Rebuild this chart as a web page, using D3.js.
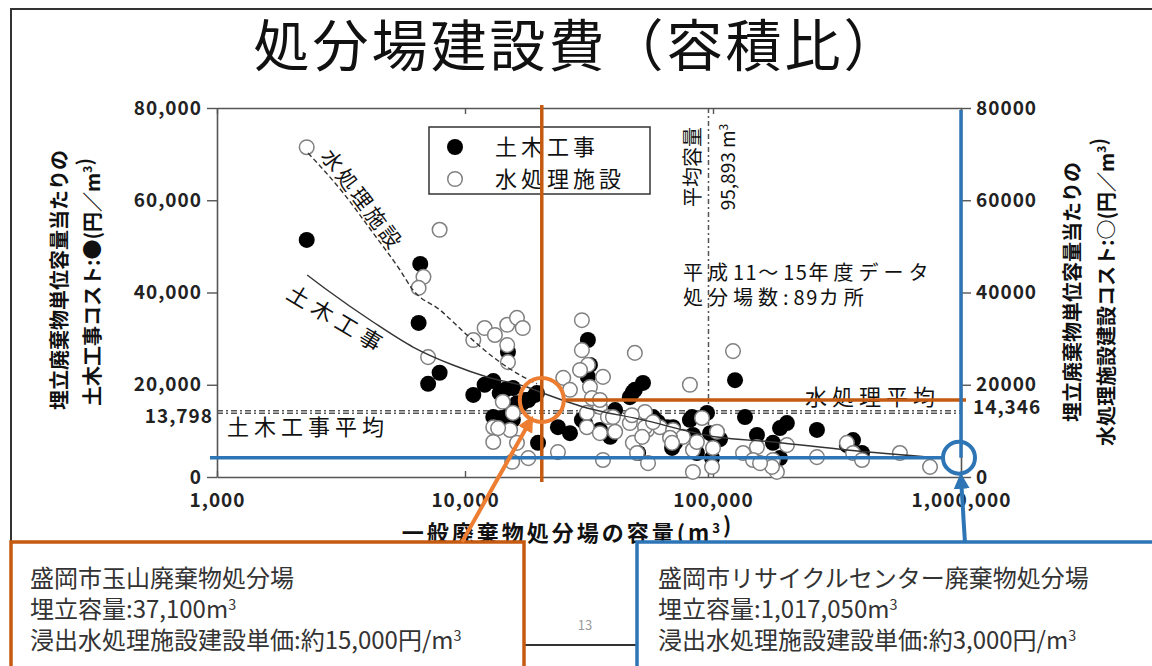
<!DOCTYPE html>
<html>
<head>
<meta charset="utf-8">
<script src="https://cdn.jsdelivr.net/npm/d3@7"></script>
<style>
body { margin: 0; background: #fff; }
text { font-family: "Noto Sans CJK JP", sans-serif; }
</style>
</head>
<body>
<svg id="chart" width="1152" height="666"></svg>
<script>
// black dots: civil works cost per m3
let civilCap = [2300, 6600, 6500, 7900, 7100, 10800, 12000, 13000, 13800, 14500, 15600, 14900, 13000, 14200,
    15500, 16200, 17000, 18000, 19500, 19200, 19700, 23700, 26500, 17500, 15200, 15600, 31300, 31900, 31300,
    52200, 48400, 46200, 47500, 29600, 30500, 40300, 49900, 54700, 57300, 65300, 69000, 70300, 68400, 82300,
    80700, 94600, 97300, 99100, 86100, 122700, 134600, 150400, 174500, 186300, 198600, 262500, 367000, 346600,
    398900, 186300, 38500, 35000, 60000, 83000, 106700];
let civilCost = [51400, 46200, 33400, 22600, 20200, 17800, 20000, 20800, 18200, 18900, 19300, 27100, 13000, 12800,
    14500, 16000, 16000, 16700, 18200, 17800, 7400, 10800, 9500, 16700, 13900, 12400, 29700, 24300, 21700,
    20400, 18900, 17300, 18400, 12400, 11700, 14500, 5200, 10600, 13000, 10800, 10800, 7400, 6300, 13000,
    12400, 13900, 9500, 4100, 5200, 21000, 13000, 9100, 7400, 10600, 11700, 10200, 8000, 6900,
    5200, 4100, 8700, 10200, 11900, 9100, 8200];

// open dots: leachate treatment facility cost per m3
let waterCap = [2300, 7900, 6800, 6500, 7100, 10800, 12000, 13200, 14800, 16200, 17100, 14800, 14900, 14200,
    13000, 13000, 15200, 15500, 18000, 23700, 24900, 26500, 15600, 29600, 29600, 31300, 31900, 36000, 48400,
    13600, 16200, 36000, 54700, 31000, 35000, 37700, 31000, 35000, 40300, 46200, 53200, 54200, 61100, 69000,
    75700, 83000, 83000, 80700, 47500, 49400, 120400, 29100, 32500, 35000, 39500, 47100, 53200, 57300, 51800,
    67100, 86100, 90300, 100000, 103800, 99100, 132200, 150400, 145000, 174500, 198600, 181000, 173000, 154800,
    262500, 346600, 367000, 398900, 567000, 750000, 68400];
let waterCost = [71500, 53600, 43400, 41000, 26000, 29700, 32300, 30800, 33000, 34500, 32300, 28600, 24900, 16300,
    10800, 7600, 10200, 3300, 4100, 5400, 21500, 18900, 13900, 34000, 27500, 24300, 19500, 21700, 26900,
    10600, 7400, 3700, 3000, 13900, 15200, 13000, 10800, 9500, 9800, 11700, 14100, 10200, 10800, 10200,
    8700, 5900, 1100, 20000, 7400, 5200, 27300, 23200, 17100, 16700, 13000, 13400, 10800, 11900, 8700,
    8500, 7600, 12800, 6300, 9800, 2200, 5200, 6500, 3700, 3700, 6900, 1100, 2200, 3000,
    4300, 7400, 5200, 3700, 5200, 2200, 7400];

// trend curves as drawn
let civilCurveX = [2310, 2780, 4260, 6170, 8940, 12270, 17780, 20060, 31050, 50000, 103800, 174500, 346600, 822000];
let civilCurveY = [43800, 40540, 33600, 28180, 24280, 21680, 19510, 18430, 14960, 12600, 8670, 7590, 5850, 4120];
let waterCurveX = [2330, 3230, 4260, 5470, 6170, 7930, 10190, 12970, 16660, 19500];
let waterCurveY = [70240, 61570, 52900, 44880, 40540, 36200, 30790, 26020, 22110, 20200];

let xTicks = [1000, 10000, 100000, 1000000];
let yTicks = [0, 20000, 40000, 60000, 80000];
let civilAvg = 13798;
let waterAvg = 14346;
let avgCapacity = 95893;

// where the slide's callouts point
let tamayamaMark = [20400, 16700];
let recycleMark = [1000000, 4200];

let tamayamaText = ["盛岡市玉山廃棄物処分場", "埋立容量:37,100m^3", "浸出水処理施設建設単価:約15,000円/m^3"];
let recycleText = ["盛岡市リサイクルセンター廃棄物処分場", "埋立容量:1,017,050m^3", "浸出水処理施設建設単価:約3,000円/m^3"];

let margin = {top: 108, right: 191, bottom: 189, left: 217};
let width = 1152 - margin.left - margin.right;
let height = 666 - margin.top - margin.bottom;

let orangeDark = "#C55A11", orange = "#ED7D31", blue = "#2E75B6";

let svg = d3.select("#chart");
svg.append("rect").attr("width", 1152).attr("height", 666).attr("fill", "#fff");

let defs = svg.append("defs");
function addArrow(id, color) {
    defs.append("marker")
        .attr("id", id)
        .attr("viewBox", "0 0 10 10")
        .attr("refX", 7).attr("refY", 5)
        .attr("markerWidth", 4).attr("markerHeight", 4)
        .attr("orient", "auto")
        .append("path").attr("d", "M0,0 L10,5 L0,10 z").attr("fill", color);
}
addArrow("arrowOrange", orange);
addArrow("arrowBlue", blue);

// slide frame
svg.append("rect")
    .attr("x", 11).attr("y", 9)
    .attr("width", 1160).attr("height", 636)
    .attr("fill", "none").attr("stroke", "#333").attr("stroke-width", 2);

svg.append("text")
    .attr("x", 578).attr("y", 66)
    .attr("text-anchor", "middle")
    .attr("font-size", 56)
    .attr("letter-spacing", 3)
    .attr("fill", "#111")
    .text("処分場建設費（容積比）");

let chart = svg.append("g")
    .attr("transform", "translate(" + margin.left + "," + margin.top + ")");

let x = d3.scaleLog().domain([1000, 1000000]).range([0, width]);
let y = d3.scaleLinear().domain([0, 80000]).range([height, 0]);

let numFont = t => t.attr("font-family", "DejaVu Sans").attr("font-weight", "bold")
    .attr("font-size", 19).attr("letter-spacing", 1).attr("fill", "#222");

function styleAxis(g) {
    g.select(".domain").attr("stroke", "#555").attr("stroke-width", 1.6);
    g.selectAll(".tick line").attr("stroke", "#555").attr("stroke-width", 1.4);
    g.selectAll(".tick text").call(numFont);
}

chart.append("g")
    .call(d3.axisLeft(y).tickValues(yTicks).tickFormat(d3.format(",")).tickSizeInner(10).tickSizeOuter(0).tickPadding(5))
    .call(styleAxis);

chart.append("g")
    .attr("transform", "translate(" + width + ",0)")
    .call(d3.axisRight(y).tickValues(yTicks).tickFormat(d3.format("d")).tickSizeInner(10).tickSizeOuter(0).tickPadding(5))
    .call(styleAxis);

chart.append("g")
    .attr("transform", "translate(0," + height + ")")
    .call(d3.axisBottom(x).tickValues(xTicks).tickFormat(d3.format(",")).tickSizeInner(-6).tickSizeOuter(0).tickPadding(17))
    .call(styleAxis);

chart.append("g")
    .call(d3.axisTop(x).tickValues(xTicks).tickFormat("").tickSizeInner(-6).tickSizeOuter(0))
    .call(styleAxis);

// average lines
[civilAvg, waterAvg].forEach(v => {
    chart.append("line")
        .attr("x1", 0).attr("x2", width)
        .attr("y1", y(v)).attr("y2", y(v))
        .attr("stroke", "#555").attr("stroke-width", 1.5)
        .attr("stroke-dasharray", "6,3,2,3");
});

chart.append("line")
    .attr("x1", x(avgCapacity)).attr("x2", x(avgCapacity))
    .attr("y1", 0).attr("y2", height)
    .attr("stroke", "#555").attr("stroke-width", 1.5)
    .attr("stroke-dasharray", "5,3,2,3");

chart.append("text")
    .attr("x", -4).attr("y", y(civilAvg) + 3).attr("dy", "0.35em")
    .attr("text-anchor", "end")
    .call(numFont)
    .text("13,798");

chart.append("text")
    .attr("x", width + 12).attr("y", y(waterAvg) - 3).attr("dy", "0.35em")
    .call(numFont)
    .text("14,346");

// scatter
let civilData = civilCap.map((c, i) => [c, civilCost[i]]);
let waterData = waterCap.map((c, i) => [c, waterCost[i]]);

chart.selectAll("circle.civil")
    .data(civilData)
    .enter()
    .append("circle")
    .attr("class", "civil")
    .attr("cx", d => x(d[0]))
    .attr("cy", d => y(d[1]))
    .attr("r", 8)
    .attr("fill", "#000");

chart.selectAll("circle.water")
    .data(waterData)
    .enter()
    .append("circle")
    .attr("class", "water")
    .attr("cx", d => x(d[0]))
    .attr("cy", d => y(d[1]))
    .attr("r", 7.3)
    .attr("fill", "#fff")
    .attr("stroke", "#808080")
    .attr("stroke-width", 1.5);

// trend curves
let line = d3.line().x(d => x(d[0])).y(d => y(d[1])).curve(d3.curveMonotoneX);

chart.append("path")
    .datum(civilCurveX.map((c, i) => [c, civilCurveY[i]]))
    .attr("d", line)
    .attr("fill", "none").attr("stroke", "#333").attr("stroke-width", 1.4);

chart.append("path")
    .datum(waterCurveX.map((c, i) => [c, waterCurveY[i]]))
    .attr("d", line)
    .attr("fill", "none").attr("stroke", "#333").attr("stroke-width", 1.4)
    .attr("stroke-dasharray", "5,3");

// legend
chart.append("rect")
    .attr("x", 212).attr("y", 19)
    .attr("width", 221).attr("height", 67)
    .attr("fill", "#fff").attr("stroke", "#333").attr("stroke-width", 1.5);
chart.append("circle").attr("cx", 238).attr("cy", 39).attr("r", 8).attr("fill", "#000");
chart.append("circle").attr("cx", 238).attr("cy", 71).attr("r", 7.3)
    .attr("fill", "#fff").attr("stroke", "#808080").attr("stroke-width", 1.5);
chart.append("text").attr("x", 278).attr("y", 47)
    .attr("font-size", 22).attr("letter-spacing", 4).attr("fill", "#111").text("土木工事");
chart.append("text").attr("x", 278).attr("y", 79)
    .attr("font-size", 22).attr("letter-spacing", 4).attr("fill", "#111").text("水処理施設");

// labels inside the plot
function label(tx, ty, rot, str, size, spacing) {
    chart.append("text")
        .attr("transform", "translate(" + tx + "," + ty + ") rotate(" + rot + ")")
        .attr("text-anchor", "middle").attr("dy", "0.35em")
        .attr("font-size", size).attr("letter-spacing", spacing).attr("fill", "#111")
        .text(str);
}
label(x(avgCapacity) - 15, 59, -90, "平均容量", 20, 0);
label(145, 92, 53, "水処理施設", 21, 3);
label(120, 212, 31, "土木工事", 22, 6);

chart.append("text")
    .attr("transform", "translate(" + (x(avgCapacity) + 20) + ",59) rotate(-90)")
    .attr("text-anchor", "middle").attr("dy", "0.35em")
    .attr("font-family", "Liberation Sans").attr("font-size", 19).attr("fill", "#111")
    .call(t => {
        t.append("tspan").text("95,893 m");
        t.append("tspan").attr("dy", -7).attr("font-size", 12).text("3");
    });

// wide-spaced kana/kanji, tight digits
function spaced(tx, ty, str) {
    let t = chart.append("text").attr("x", tx).attr("y", ty)
        .attr("font-size", 20).attr("fill", "#111");
    str.split(/([0-9]+)/).filter(p => p).forEach(p => {
        t.append("tspan").attr("letter-spacing", /^[0-9]+$/.test(p) ? 1.5 : 5).text(p);
    });
}
spaced(466, 172, "平成11～15年度データ");
spaced(466, 197, "処分場数:89カ所");

chart.append("text").attr("x", 10).attr("y", y(civilAvg) + 22)
    .attr("font-size", 22).attr("letter-spacing", 5).attr("fill", "#111").text("土木工事平均");
chart.append("text").attr("x", 588).attr("y", y(waterAvg) - 6)
    .attr("font-size", 22).attr("letter-spacing", 5).attr("fill", "#111").text("水処理平均");

// axis titles
function sup(t, parts) {
    parts.forEach(p => {
        if (p.startsWith("^")) {
            t.append("tspan").attr("dy", -8).attr("font-size", "0.6em").text(p.slice(1));
            t.append("tspan").attr("dy", 8).text("");
        } else {
            t.append("tspan").text(p);
        }
    });
}
function vtitle(cx, cy, parts) {
    svg.append("text")
        .attr("transform", "translate(" + cx + "," + cy + ") rotate(-90)")
        .attr("text-anchor", "middle").attr("dy", "0.35em")
        .attr("font-size", 20).attr("font-weight", "bold").attr("fill", "#111")
        .call(t => sup(t, parts));
}
vtitle(60, 280, ["埋立廃棄物単位容量当たりの"]);
vtitle(93, 282, ["土木工事コスト:●(円／m", "^3", ")"]);
vtitle(1073, 292, ["埋立廃棄物単位容量当たりの"]);
vtitle(1107, 292, ["水処理施設建設コスト:○(円／m", "^3", ")"]);

svg.append("text")
    .attr("x", 568).attr("y", 541)
    .attr("text-anchor", "middle")
    .attr("font-size", 22).attr("font-weight", "bold").attr("letter-spacing", 3).attr("fill", "#111")
    .call(t => sup(t, ["一般廃棄物処分場の容量(m", "^3", ")"]));

svg.append("text")
    .attr("x", 585).attr("y", 630)
    .attr("text-anchor", "middle")
    .attr("font-family", "Liberation Sans").attr("font-size", 13).attr("fill", "#999")
    .text("13");

// callouts
let ox = x(tamayamaMark[0]), oy = y(tamayamaMark[1]);
let bx = x(recycleMark[0]), by = y(recycleMark[1]);

chart.append("line")
    .attr("x1", ox).attr("x2", ox).attr("y1", -3).attr("y2", height + 5)
    .attr("stroke", orangeDark).attr("stroke-width", 3.5);
chart.append("line")
    .attr("x1", ox + 22).attr("x2", width + 5).attr("y1", oy).attr("y2", oy)
    .attr("stroke", orangeDark).attr("stroke-width", 3.5);
chart.append("circle")
    .attr("cx", ox).attr("cy", oy).attr("r", 22)
    .attr("fill", "none").attr("stroke", orange).attr("stroke-width", 4);

chart.append("line")
    .attr("x1", bx).attr("x2", bx).attr("y1", 2).attr("y2", by)
    .attr("stroke", blue).attr("stroke-width", 3.5);
chart.append("line")
    .attr("x1", -7).attr("x2", bx - 16).attr("y1", by).attr("y2", by)
    .attr("stroke", blue).attr("stroke-width", 3.5);
chart.append("circle")
    .attr("cx", bx - 2).attr("cy", by).attr("r", 16)
    .attr("fill", "none").attr("stroke", blue).attr("stroke-width", 4);

function box(bxLeft, color, lines, textX) {
    svg.append("rect")
        .attr("x", bxLeft).attr("y", 542)
        .attr("width", color === blue ? 560 : 513).attr("height", 150)
        .attr("fill", "#fff").attr("stroke", color).attr("stroke-width", 3.5);
    lines.forEach((l, i) => {
        svg.append("text")
            .attr("x", textX).attr("y", 587 + i * 31)
            .attr("font-size", 24).attr("fill", "#333")
            .call(t => sup(t, l.split(/(\^\d)/).filter(p => p)));
    });
}
box(11, orangeDark, tamayamaText, 30);
box(637, blue, recycleText, 658);

svg.append("line")
    .attr("x1", 462).attr("y1", 542)
    .attr("x2", margin.left + ox - 11).attr("y2", margin.top + oy + 20)
    .attr("stroke", orange).attr("stroke-width", 4)
    .attr("marker-end", "url(#arrowOrange)");

svg.append("line")
    .attr("x1", 965).attr("y1", 543)
    .attr("x2", margin.left + bx).attr("y2", margin.top + by + 20)
    .attr("stroke", blue).attr("stroke-width", 4)
    .attr("marker-end", "url(#arrowBlue)");
</script>
</body>
</html>
